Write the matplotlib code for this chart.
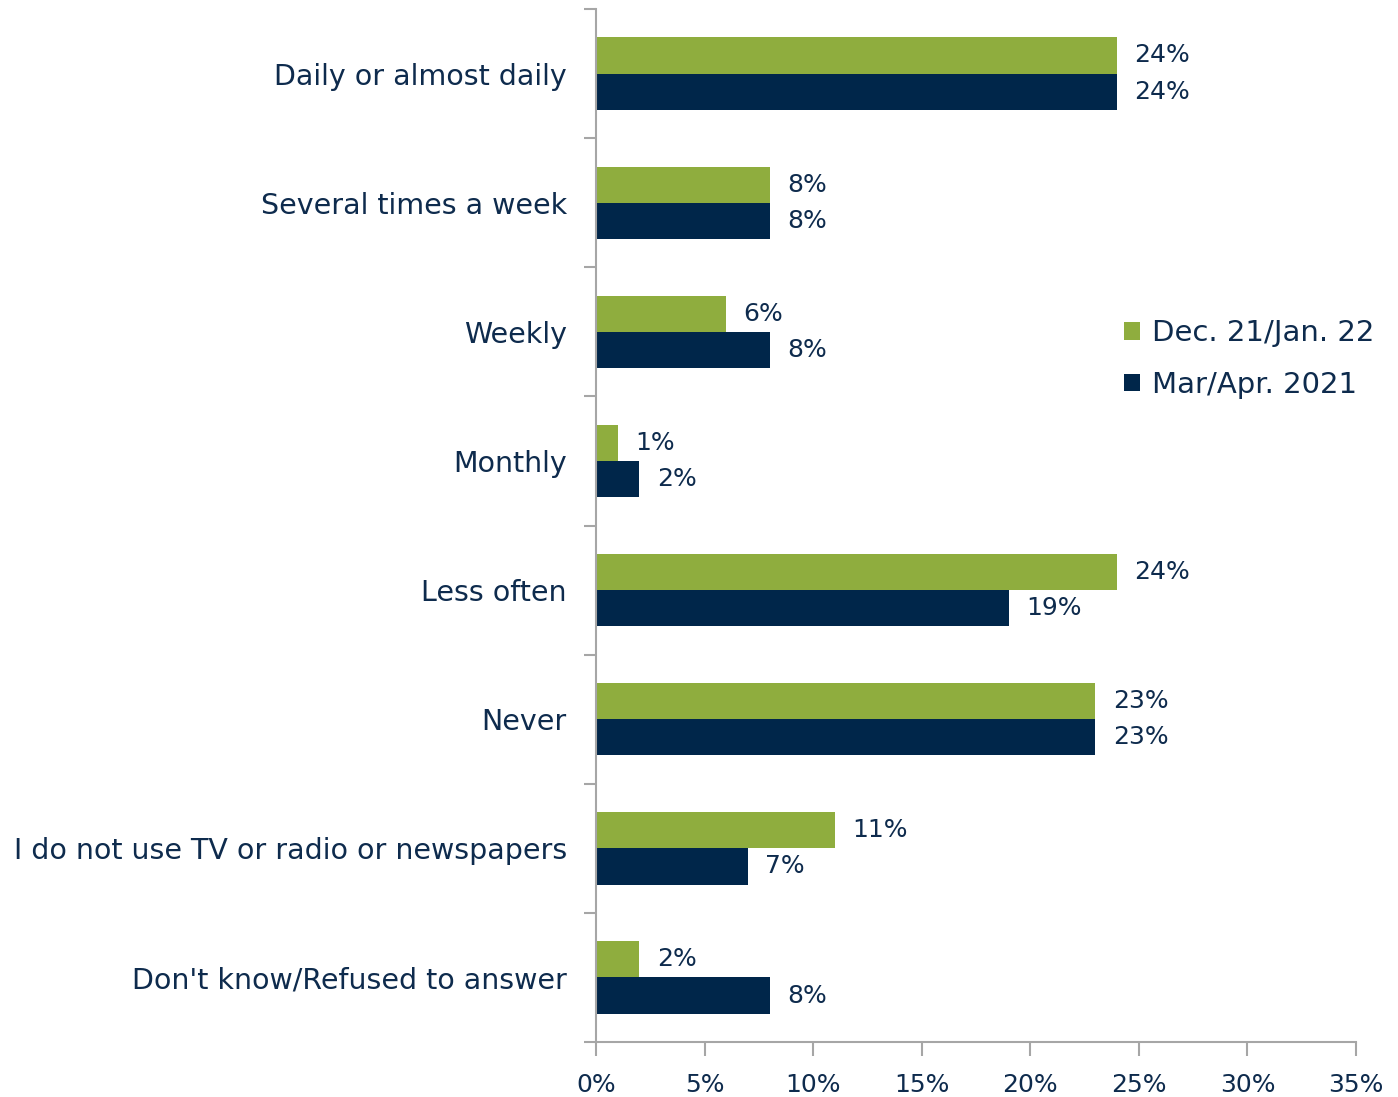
import matplotlib
matplotlib.use('Agg')
import matplotlib.pyplot as plt
import numpy as np
from matplotlib.ticker import FuncFormatter

# categories top to bottom
categories = ["Daily or almost daily", "Several times a week", "Weekly", "Monthly",
              "Less often", "Never", "I do not use TV or radio or newspapers",
              "Don't know/Refused to answer"]
dec21_jan22 = [24, 8, 6, 1, 24, 23, 11, 2]
mar_apr_2021 = [24, 8, 8, 2, 19, 23, 7, 8]
series_names = ["Dec. 21/Jan. 22", "Mar/Apr. 2021"]

green = '#8FAD3E'
navy = '#00264A'
text_c = '#0E2B4D'
grey = '#A6A6A6'

plt.rcParams['font.family'] = ['DejaVu Sans']

fig = plt.figure(figsize=(13.98, 10.97), dpi=100)
ax = fig.add_axes([0.4263, 0.0501, 0.5437, 0.9417])

n = len(categories)
y = np.arange(n)
h = 0.28
ax.barh(y - h / 2, dec21_jan22, height=h, color=green, label=series_names[0])
ax.barh(y + h / 2, mar_apr_2021, height=h, color=navy, label=series_names[1])

for i in range(n):
    ax.text(dec21_jan22[i] + 0.8, y[i] - h / 2, "%d%%" % dec21_jan22[i],
            va='center', ha='left', fontsize=18, color=text_c)
    ax.text(mar_apr_2021[i] + 0.8, y[i] + h / 2, "%d%%" % mar_apr_2021[i],
            va='center', ha='left', fontsize=18, color=text_c)

ax.set_ylim(n - 0.5, -0.5)
ax.set_xlim(0, 35)
ax.set_xticks(np.arange(0, 36, 5))
ax.xaxis.set_major_formatter(FuncFormatter(lambda v, p: "%d%%" % v))

# category ticks at band boundaries, labels in the middle
ax.set_yticks(np.arange(-0.5, n, 1))
ax.set_yticklabels([])
ax.set_yticks(y, minor=True)
ax.set_yticklabels(categories, minor=True)
ax.tick_params(axis='y', which='minor', length=0, pad=21, labelsize=20.5, labelcolor=text_c)
ax.tick_params(axis='y', which='major', length=9, width=1.5, color=grey, direction='out')
ax.tick_params(axis='x', length=10, width=1.5, color=grey, direction='out',
               labelsize=18, labelcolor=text_c, pad=12)

for s in ['top', 'right']:
    ax.spines[s].set_visible(False)
for s in ['left', 'bottom']:
    ax.spines[s].set_color(grey)
    ax.spines[s].set_linewidth(1.5)

leg = ax.legend(loc='upper left', bbox_to_anchor=(0.66, 0.725), frameon=False,
                fontsize=21, handlelength=0.55, handleheight=0.55, handletextpad=0.4,
                labelspacing=0.8)
for t in leg.get_texts():
    t.set_color(text_c)

fig.savefig('out.png', dpi=100)
